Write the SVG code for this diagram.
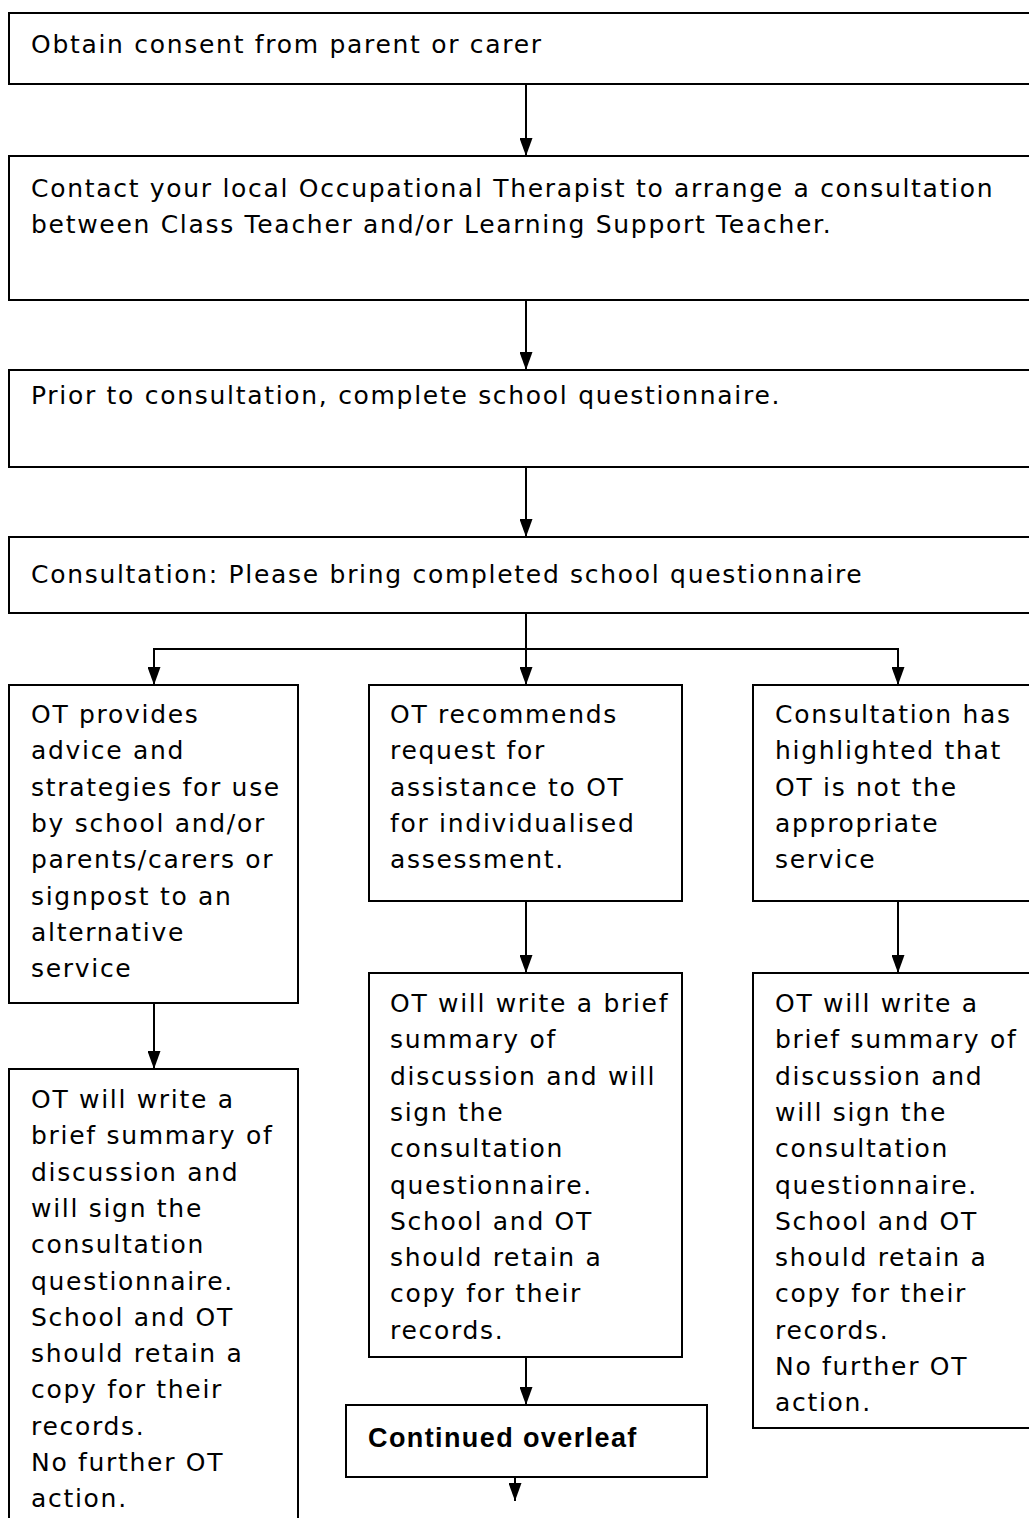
<svg xmlns="http://www.w3.org/2000/svg" width="1029" height="1518" viewBox="0 0 1029 1518">
<style>
.box{fill:#fff;stroke:#000;stroke-width:2}
.t{font-family:"DejaVu Sans","Liberation Sans",sans-serif;font-size:25px;letter-spacing:1.7px;fill:#000}
.b{font-family:"Liberation Sans",Arial,sans-serif;font-size:27px;letter-spacing:1.4px;font-weight:bold;fill:#000}
.c{stroke:#000;stroke-width:2;fill:none}
</style>
<defs>
<marker id="ah" markerWidth="18" markerHeight="13" refX="18" refY="6.5" orient="auto" markerUnits="userSpaceOnUse" viewBox="0 0 18 13">
<path d="M0,0 L18,6.5 L0,13 Z" fill="#000"/>
</marker>
</defs>
<rect width="1029" height="1518" fill="#fff"/>
<g id="connectors">
<line class="c" x1="526" y1="84" x2="526" y2="156" marker-end="url(#ah)"/>
<line class="c" x1="526" y1="300" x2="526" y2="370" marker-end="url(#ah)"/>
<line class="c" x1="526" y1="467" x2="526" y2="537" marker-end="url(#ah)"/>
<line class="c" x1="526" y1="613" x2="526" y2="685" marker-end="url(#ah)"/>
<polyline class="c" points="154,685 154,649 898,649 898,685"/>
<line class="c" x1="154" y1="649" x2="154" y2="685" marker-end="url(#ah)"/>
<line class="c" x1="898" y1="649" x2="898" y2="685" marker-end="url(#ah)"/>
<line class="c" x1="154" y1="1003" x2="154" y2="1069" marker-end="url(#ah)"/>
<line class="c" x1="526" y1="901" x2="526" y2="973" marker-end="url(#ah)"/>
<line class="c" x1="898" y1="901" x2="898" y2="973" marker-end="url(#ah)"/>
<line class="c" x1="526" y1="1357" x2="526" y2="1405" marker-end="url(#ah)"/>
<line class="c" x1="515" y1="1477" x2="515" y2="1501" marker-end="url(#ah)"/>
</g>
<g id="n1">
<rect class="box" x="9" y="13" width="1030" height="71"/>
<text class="t" x="31" y="53">Obtain consent from parent or carer</text>
</g>
<g id="n2">
<rect class="box" x="9" y="156" width="1030" height="144"/>
<text class="t" x="31" y="197">Contact your local Occupational Therapist to arrange a consultation</text>
<text class="t" x="31" y="233">between Class Teacher and/or Learning Support Teacher.</text>
</g>
<g id="n3">
<rect class="box" x="9" y="370" width="1030" height="97"/>
<text class="t" x="31" y="404">Prior to consultation, complete school questionnaire.</text>
</g>
<g id="n4">
<rect class="box" x="9" y="537" width="1030" height="76"/>
<text class="t" x="31" y="583">Consultation: Please bring completed school questionnaire</text>
</g>
<g id="n5">
<rect class="box" x="9" y="685" width="289" height="318"/>
<text class="t" x="31" y="723">OT provides</text>
<text class="t" x="31" y="759.3">advice and</text>
<text class="t" x="31" y="795.6">strategies for use</text>
<text class="t" x="31" y="831.9">by school and/or</text>
<text class="t" x="31" y="868.2">parents/carers or</text>
<text class="t" x="31" y="904.5">signpost to an</text>
<text class="t" x="31" y="940.8">alternative</text>
<text class="t" x="31" y="977.1">service</text>
</g>
<g id="n6">
<rect class="box" x="369" y="685" width="313" height="216"/>
<text class="t" x="390" y="723">OT recommends</text>
<text class="t" x="390" y="759.3">request for</text>
<text class="t" x="390" y="795.6">assistance to OT</text>
<text class="t" x="390" y="831.9">for individualised</text>
<text class="t" x="390" y="868.2">assessment.</text>
</g>
<g id="n7">
<rect class="box" x="753" y="685" width="290" height="216"/>
<text class="t" x="775" y="723">Consultation has</text>
<text class="t" x="775" y="759.3">highlighted that</text>
<text class="t" x="775" y="795.6">OT is not the</text>
<text class="t" x="775" y="831.9">appropriate</text>
<text class="t" x="775" y="868.2">service</text>
</g>
<g id="n8">
<rect class="box" x="9" y="1069" width="289" height="460"/>
<text class="t" x="31" y="1108">OT will write a</text>
<text class="t" x="31" y="1144.3">brief summary of</text>
<text class="t" x="31" y="1180.6">discussion and</text>
<text class="t" x="31" y="1216.9">will sign the</text>
<text class="t" x="31" y="1253.2">consultation</text>
<text class="t" x="31" y="1289.5">questionnaire.</text>
<text class="t" x="31" y="1325.8">School and OT</text>
<text class="t" x="31" y="1362.1">should retain a</text>
<text class="t" x="31" y="1398.4">copy for their</text>
<text class="t" x="31" y="1434.7">records.</text>
<text class="t" x="31" y="1471">No further OT</text>
<text class="t" x="31" y="1507.3">action.</text>
</g>
<g id="n9">
<rect class="box" x="369" y="973" width="313" height="384"/>
<text class="t" x="390" y="1012">OT will write a brief</text>
<text class="t" x="390" y="1048.3">summary of</text>
<text class="t" x="390" y="1084.6">discussion and will</text>
<text class="t" x="390" y="1120.9">sign the</text>
<text class="t" x="390" y="1157.2">consultation</text>
<text class="t" x="390" y="1193.5">questionnaire.</text>
<text class="t" x="390" y="1229.8">School and OT</text>
<text class="t" x="390" y="1266.1">should retain a</text>
<text class="t" x="390" y="1302.4">copy for their</text>
<text class="t" x="390" y="1338.7">records.</text>
</g>
<g id="n10">
<rect class="box" x="753" y="973" width="290" height="455"/>
<text class="t" x="775" y="1012">OT will write a</text>
<text class="t" x="775" y="1048.3">brief summary of</text>
<text class="t" x="775" y="1084.6">discussion and</text>
<text class="t" x="775" y="1120.9">will sign the</text>
<text class="t" x="775" y="1157.2">consultation</text>
<text class="t" x="775" y="1193.5">questionnaire.</text>
<text class="t" x="775" y="1229.8">School and OT</text>
<text class="t" x="775" y="1266.1">should retain a</text>
<text class="t" x="775" y="1302.4">copy for their</text>
<text class="t" x="775" y="1338.7">records.</text>
<text class="t" x="775" y="1375">No further OT</text>
<text class="t" x="775" y="1411.3">action.</text>
</g>
<g id="n11">
<rect class="box" x="346" y="1405" width="361" height="72"/>
<text class="b" x="368" y="1447">Continued overleaf</text>
</g>
</svg>
